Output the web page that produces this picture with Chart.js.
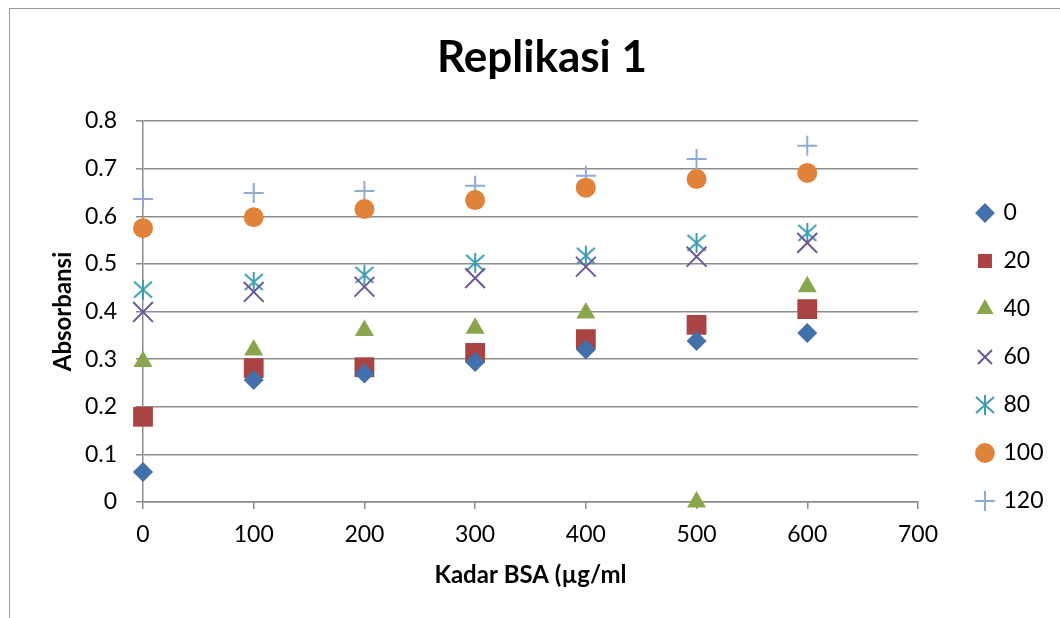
<!DOCTYPE html>
<html>
<head>
<meta charset="utf-8">
<script src="https://cdn.jsdelivr.net/npm/chart.js@4.4.0/dist/chart.umd.min.js"></script>
<style>
html, body { margin: 0; padding: 0; background: #fff; }
#wrap { position: relative; width: 1060px; height: 618px; overflow: hidden; }
#frame { position: absolute; left: 9px; top: 8px; width: 1200px; height: 800px; border: 1.5px solid #9a9a9a; }
canvas { position: absolute; left: 0; top: 0; }
</style>
</head>
<body>
<div id="wrap">
  <div id="frame"></div>
  <canvas id="chart" width="1060" height="618"></canvas>
</div>
<script>
var kadarBSA = [0, 100, 200, 300, 400, 500, 600];
var seriesLabels = ['0', '20', '40', '60', '80', '100', '120'];

var abs0   = [0.063, 0.256, 0.270, 0.294, 0.320, 0.338, 0.355];
var abs20  = [0.179, 0.281, 0.283, 0.313, 0.342, 0.372, 0.405];
var abs40  = [0.295, 0.319, 0.360, 0.365, 0.397, 0.000, 0.452];
var abs60  = [0.399, 0.441, 0.452, 0.470, 0.494, 0.515, 0.544];
var abs80  = [0.446, 0.462, 0.477, 0.502, 0.517, 0.544, 0.565];
var abs100 = [0.575, 0.598, 0.615, 0.634, 0.660, 0.678, 0.691];
var abs120 = [0.636, 0.649, 0.653, 0.664, 0.685, 0.720, 0.748];

var FONT = 'Lato, "Open Sans", sans-serif';
var GRID = '#8c8c8c';

// excel style asterisk: an X with a vertical bar
function makeAsterisk(color) {
    var c = document.createElement('canvas');
    c.width = 22; c.height = 22;
    var g = c.getContext('2d');
    g.strokeStyle = color;
    g.lineWidth = 2;
    g.beginPath();
    g.moveTo(2, 3); g.lineTo(20, 19);
    g.moveTo(20, 3); g.lineTo(2, 19);
    g.moveTo(11, 1); g.lineTo(11, 21);
    g.stroke();
    return c;
}

function points(ys) {
    return kadarBSA.map(function(x, i) { return { x: x, y: ys[i] }; });
}

function series(label, ys, color, style, radius, border) {
    return {
        label: label,
        data: points(ys),
        clip: false,
        pointStyle: style,
        pointRadius: radius,
        pointHoverRadius: radius,
        pointBackgroundColor: color,
        pointBorderColor: color,
        pointBorderWidth: border,
        backgroundColor: color,
        borderColor: color
    };
}

var ctx = document.getElementById('chart').getContext('2d');
new Chart(ctx, {
    type: 'scatter',
    data: {
        datasets: [
            series(seriesLabels[0], abs0, '#4170ac', 'rectRot', 10, 0),
            series(seriesLabels[1], abs20, '#aa4442', 'rect', 14, 0),
            series(seriesLabels[2], abs40, '#8aa64d', 'triangle', 11, 0),
            series(seriesLabels[3], abs60, '#6f5796', 'crossRot', 14, 2),
            series(seriesLabels[4], abs80, '#3e9cb5', makeAsterisk('#3e9cb5'), 11, 2),
            series(seriesLabels[5], abs100, '#e0823a', 'circle', 10, 0),
            series(seriesLabels[6], abs120, '#8faad5', 'cross', 10, 2)
        ]
    },
    options: {
        responsive: false,
        animation: false,
        layout: { padding: { left: 30.5, right: 6.5, top: 0, bottom: 28.6 } },
        plugins: {
            title: {
                display: true,
                text: 'Replikasi 1',
                color: '#000',
                font: { family: FONT, size: 44, weight: 'bold' },
                padding: { top: 31.1, bottom: 37.1 }
            },
            legend: {
                position: 'right',
                align: 'start',
                title: { display: true, text: ' ', font: { size: 12 }, padding: { top: 162.1, bottom: 0 } },
                labels: {
                    usePointStyle: true,
                    boxWidth: 14,
                    boxHeight: 14,
                    padding: 25,
                    color: '#000',
                    font: { family: FONT, size: 23 }
                }
            },
            tooltip: { enabled: false }
        },
        scales: {
            x: {
                type: 'linear',
                min: 0,
                max: 700,
                afterFit: function(s) { s.height = 87.4; },
                ticks: { stepSize: 100, color: '#000', padding: 12, font: { family: FONT, size: 23 } },
                grid: { drawOnChartArea: false, tickLength: 7, color: GRID, lineWidth: 1.5 },
                border: { color: GRID, width: 1.5 },
                title: {
                    display: true,
                    text: 'Kadar BSA (\u00b5g/ml',
                    color: '#000',
                    font: { family: FONT, size: 24, weight: 'bold' },
                    padding: { top: 0, bottom: 0 }
                }
            },
            y: {
                min: 0,
                max: 0.8,
                afterFit: function(s) { s.width = 112.5; },
                ticks: { stepSize: 0.1, color: '#000', padding: 19, font: { family: FONT, size: 23 } },
                grid: { tickLength: 7, color: GRID, lineWidth: 1.5 },
                border: { color: GRID, width: 1.5 },
                title: {
                    display: true,
                    text: 'Absorbansi',
                    color: '#000',
                    font: { family: FONT, size: 24, weight: 'bold' },
                    padding: { top: 18, bottom: 0 }
                }
            },
            // empty right-hand scale, keeps a gap between plot and legend
            yGap: {
                position: 'right',
                afterFit: function(s) { s.width = 35; },
                ticks: { display: false },
                grid: { display: false },
                border: { display: false }
            }
        }
    }
});
</script>
</body>
</html>
